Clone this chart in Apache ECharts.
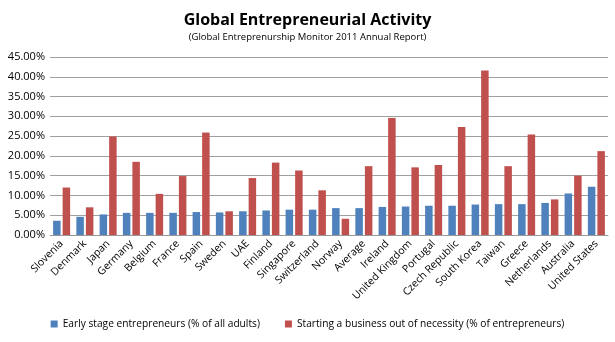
<!DOCTYPE html>
<html>
<head>
<meta charset="utf-8">
<script src="https://cdn.jsdelivr.net/npm/echarts@6/dist/echarts.min.js"></script>
<style>
  html, body { margin: 0; padding: 0; background: #fff; }
  #chart { width: 615px; height: 342px; }
</style>
</head>
<body>
<div id="chart"></div>
<script>
// Countries, in the order shown along the x axis
const countries = ['Slovenia', 'Denmark', 'Japan', 'Germany', 'Belgium', 'France', 'Spain', 'Sweden',
  'UAE', 'Finland', 'Singapore', 'Switzerland', 'Norway', 'Average', 'Ireland', 'United Kingdom',
  'Portugal', 'Czech Republic', 'South Korea', 'Taiwan', 'Greece', 'Netherlands', 'Australia', 'United States'];

// Early stage entrepreneurs (% of all adults)
const earlyStage = [3.6, 4.6, 5.2, 5.6, 5.6, 5.6, 5.8, 5.7, 6.0, 6.2, 6.4, 6.4,
  6.8, 6.8, 7.1, 7.2, 7.4, 7.4, 7.7, 7.8, 7.8, 8.1, 10.5, 12.2];

// Starting a business out of necessity (% of entrepreneurs)
const necessity = [12.0, 7.0, 24.9, 18.5, 10.4, 14.9, 25.9, 6.0, 14.4, 18.3, 16.3, 11.3,
  4.1, 17.4, 29.6, 17.1, 17.7, 27.3, 41.6, 17.4, 25.4, 9.0, 15.0, 21.2];

// Value axis ticks (percent)
const yTicks = [0, 5, 10, 15, 20, 25, 30, 35, 40, 45];

const seriesNames = ['Early stage entrepreneurs (% of all adults)',
  'Starting a business out of necessity (% of entrepreneurs)'];

const font = 'Open Sans, Liberation Sans, sans-serif';
const chart = echarts.init(document.getElementById('chart'), null, { renderer: 'canvas' });

chart.setOption({
  animation: false,
  backgroundColor: '#fff',
  title: {
    text: 'Global Entrepreneurial Activity',
    subtext: '(Global Entreprenurship Monitor 2011 Annual Report)',
    left: 'center',
    top: 7,
    itemGap: 4,
    textStyle: { fontFamily: font, fontSize: 16, fontWeight: 'bold', color: '#000' },
    subtextStyle: { fontFamily: font, fontSize: 9.5, color: '#000' }
  },
  legend: {
    bottom: 8,
    left: 'center',
    itemWidth: 7,
    itemHeight: 7,
    itemGap: 25,
    icon: 'rect',
    textStyle: { fontFamily: font, fontSize: 10.2, color: '#000' },
    data: seriesNames
  },
  grid: { left: 50, right: 7, top: 57, bottom: 107, containLabel: false },
  xAxis: {
    type: 'category',
    data: countries,
    axisTick: { show: false },
    axisLine: { show: true, lineStyle: { color: '#999' } },
    axisLabel: {
      rotate: 45,
      interval: 0,
      margin: 7,
      fontFamily: font,
      fontSize: 10.5,
      color: '#000'
    }
  },
  yAxis: {
    type: 'value',
    min: yTicks[0],
    max: yTicks[yTicks.length - 1],
    interval: yTicks[1] - yTicks[0],
    axisLine: { show: false },
    axisTick: { show: false },
    splitLine: { lineStyle: { color: '#a0a0a0', width: 1 } },
    axisLabel: {
      fontFamily: font,
      fontSize: 11,
      color: '#000',
      margin: 5,
      formatter: v => v.toFixed(2) + '%'
    }
  },
  series: [
    {
      name: seriesNames[0],
      type: 'bar',
      data: earlyStage,
      barWidth: 7.5,
      barGap: '27%',
      itemStyle: { color: '#4F81BD' }
    },
    {
      name: seriesNames[1],
      type: 'bar',
      data: necessity,
      barWidth: 7.5,
      itemStyle: { color: '#C0504D' }
    }
  ]
});
</script>
</body>
</html>
